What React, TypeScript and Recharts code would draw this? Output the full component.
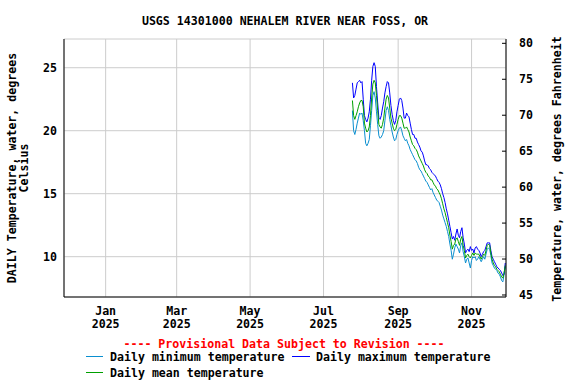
import React from 'react';
import { LineChart, Line, XAxis, YAxis, CartesianGrid } from 'recharts';

// first day with data, 2025-07-25, then one value per day
const firstDate = '2025-07-25';

const maxTemps = [
  23.8, 22.6, 22.8, 23.3, 23.8, 23.9, 24.0, 23.8, 23.9, 22.5,
  21.2, 20.9, 20.7, 21.0, 21.5, 22.5, 24.0, 25.1, 25.4, 25.1,
  23.5, 22.2, 21.0, 20.9, 21.2, 21.8, 22.3, 23.0, 23.5, 23.9,
  23.8, 23.0, 22.0, 21.3, 20.8, 20.5, 20.8, 21.5, 22.0, 22.5,
  22.6, 22.4, 21.8, 21.0, 21.0, 21.4, 21.2, 21.1, 20.6, 20.1,
  19.7, 19.7, 19.4, 19.4, 19.1, 18.9, 18.7, 18.4, 18.3, 18.0,
  17.6, 17.3, 17.3, 17.2, 17.0, 16.9, 16.7, 16.6, 16.5, 16.4,
  16.2, 16.0, 15.9, 15.7, 15.4, 15.0, 14.7, 14.3, 13.8, 13.4,
  12.9, 12.4, 11.9, 11.4, 11.6, 11.3, 11.8, 12.2, 11.7, 11.5,
  12.0, 12.3, 11.5, 11.0, 10.3, 10.5, 10.6, 10.4, 10.8, 10.5,
  10.6, 10.3, 10.7, 10.8, 10.6, 10.5, 10.3, 10.0, 10.2, 10.4,
  10.5, 10.8, 11.1, 11.1, 11.1, 10.5, 10.0, 9.8, 9.6, 9.4,
  9.2, 9.1, 9.0, 8.9, 8.7, 8.5, 8.6, 9.5,
];

const minTemps = [
  21.6, 20.0, 19.7, 20.1, 20.6, 21.0, 21.4, 21.3, 21.4, 20.8,
  20.0, 19.0, 18.8, 19.0, 19.3, 20.4, 21.6, 22.8, 23.1, 22.6,
  21.5, 20.5, 19.6, 19.4, 19.5, 19.7, 20.0, 20.8, 21.6, 21.9,
  21.6, 20.9, 20.4, 19.9, 19.5, 19.2, 19.3, 19.7, 20.0, 20.2,
  20.3, 20.0, 19.6, 19.4, 19.2, 19.3, 19.0, 18.8, 18.5, 18.3,
  18.1, 17.9, 17.7, 17.6, 17.4, 17.1, 16.9, 16.8, 16.6, 16.4,
  16.2, 16.0, 15.9, 15.7, 15.5, 15.3, 15.4, 15.1, 14.9, 14.7,
  14.5, 14.4, 14.3, 14.0, 13.7, 13.3, 13.0, 12.7, 12.4, 12.0,
  11.6, 11.0, 10.5, 9.8, 10.2, 10.7, 11.0, 10.8, 10.6, 10.3,
  10.9, 11.1, 10.4, 10.0, 9.5, 9.8, 9.9, 9.5, 9.1, 9.7,
  10.0, 9.9, 10.0, 9.7, 9.8, 10.0, 9.8, 9.6, 9.8, 10.0,
  9.8, 10.2, 10.6, 10.7, 10.6, 10.1, 9.5, 9.3, 9.1, 9.0,
  8.9, 8.7, 8.6, 8.4, 8.1, 8.0, 8.6, 9.2,
];

const meanTemps = [
  22.4, 21.2, 20.9, 21.2, 21.5, 21.9, 22.2, 22.4, 22.4, 21.9,
  20.6, 20.2, 19.9, 20.0, 20.3, 21.2, 22.6, 23.7, 24.0, 23.8,
  22.8, 21.6, 20.5, 20.3, 20.2, 20.5, 21.0, 21.8, 22.5, 22.8,
  22.6, 21.8, 21.0, 20.6, 20.2, 20.0, 20.1, 20.5, 20.9, 21.2,
  21.2, 21.0, 20.6, 20.2, 20.2, 20.3, 20.1, 19.9, 19.5, 19.2,
  18.9, 18.8, 18.6, 18.5, 18.3, 18.0, 17.8, 17.6, 17.4, 17.2,
  16.9, 16.7, 16.6, 16.4, 16.3, 16.1, 16.1, 15.9, 15.7, 15.6,
  15.4, 15.3, 15.1, 14.9, 14.6, 14.2, 13.8, 13.5, 13.1, 12.7,
  12.3, 11.7, 11.2, 10.6, 10.9, 11.0, 11.4, 11.5, 11.2, 10.9,
  11.4, 11.6, 10.9, 10.5, 9.9, 10.1, 10.2, 10.0, 9.9, 10.1,
  10.3, 10.1, 10.3, 10.2, 10.2, 10.2, 10.0, 9.8, 10.0, 10.2,
  10.1, 10.5, 10.9, 11.0, 10.9, 10.3, 9.8, 9.5, 9.3, 9.2,
  9.0, 8.9, 8.8, 8.6, 8.4, 8.3, 8.7, 9.3,
];

const monthLabels = ['Jan', 'Mar', 'May', 'Jul', 'Sep', 'Nov'];
const monthIndex = [0, 2, 4, 6, 8, 10];
const yearLabel = '2025';
const celsiusTicks = [10, 15, 20, 25];
const fahrenheitTicks = [45, 50, 55, 60, 65, 70, 75, 80];

const DAY = 86400000;
const jan1 = Date.UTC(2025, 0, 1);
const start = Math.round((Date.parse(firstDate) - jan1) / DAY);

const data = maxTemps.map((v, i) => ({
  day: start + i,
  min: minTemps[i],
  max: v,
  mean: meanTemps[i],
}));

const xTicks = monthIndex.map((m) => Math.round((Date.UTC(2025, m, 1) - jan1) / DAY));

const FONT = '"DejaVu Sans Mono", monospace';
const FS = 11.6;
const MIN_C = '#0a8fd0';
const MAX_C = '#0000ff';
const MEAN_C = '#00a000';

function MonthTick(props: any) {
  const { x, y, index } = props;
  return (
    <g>
      <text x={x} y={y + 18} textAnchor="middle" fontFamily={FONT} fontWeight="bold" fontSize={FS} fill="#000">
        {monthLabels[index]}
      </text>
      <text x={x} y={y + 30.5} textAnchor="middle" fontFamily={FONT} fontWeight="bold" fontSize={FS} fill="#000">
        {yearLabel}
      </text>
    </g>
  );
}

function CTick(props: any) {
  const { x, y, payload } = props;
  return (
    <text x={x - 7} y={y + 4} textAnchor="end" fontFamily={FONT} fontWeight="bold" fontSize={FS} fill="#000">
      {payload.value}
    </text>
  );
}

function FTick(props: any) {
  const { x, y, payload } = props;
  return (
    <g>
      <line x1={x - 4} x2={x} y1={y} y2={y} stroke="#000" />
      <text x={x + 13} y={y + 4} textAnchor="start" fontFamily={FONT} fontWeight="bold" fontSize={FS} fill="#000">
        {payload.value}
      </text>
    </g>
  );
}

export default function App() {
  const txt = { fontFamily: FONT, fontWeight: 'bold' as const, fontSize: FS };
  return (
    <div style={{ position: 'absolute', left: 0, top: 0, width: 576, height: 384, background: '#fff' }}>
      <LineChart width={576} height={384} data={data} margin={{ top: 39, right: 0, bottom: 47, left: 0 }}>
        <CartesianGrid stroke="#cccccc" yAxisId="c" />
        <XAxis
          dataKey="day"
          type="number"
          domain={[-34.6, 332.6]}
          ticks={xTicks}
          allowDataOverflow
          height={40}
          tickSize={0}
          tickMargin={0}
          tick={<MonthTick />}
          axisLine={{ stroke: '#000' }}
          tickLine={false}
          interval={0}
        />
        <XAxis
          xAxisId="top"
          orientation="top"
          type="number"
          domain={[-34.6, 332.6]}
          height={0}
          tick={false}
          tickLine={false}
          axisLine={{ stroke: '#000' }}
        />
        <YAxis
          yAxisId="c"
          type="number"
          domain={[6.8, 27.28]}
          ticks={celsiusTicks}
          allowDataOverflow
          width={64}
          tickSize={0}
          tickMargin={0}
          tick={<CTick />}
          tickLine={false}
          axisLine={{ stroke: '#000' }}
          interval={0}
        />
        <YAxis
          yAxisId="f"
          orientation="right"
          type="number"
          domain={[44.72, 80.6]}
          ticks={fahrenheitTicks}
          allowDataOverflow
          width={70}
          tickSize={0}
          tickMargin={0}
          tick={<FTick />}
          tickLine={false}
          axisLine={{ stroke: '#000' }}
          interval={0}
        />
        <Line yAxisId="c" dataKey="min" stroke={MIN_C} strokeWidth={1} dot={false} isAnimationActive={false} />
        <Line yAxisId="c" dataKey="max" stroke={MAX_C} strokeWidth={1} dot={false} isAnimationActive={false} />
        <Line yAxisId="c" dataKey="mean" stroke={MEAN_C} strokeWidth={1} dot={false} isAnimationActive={false} />
      </LineChart>
      <svg width={576} height={384} style={{ position: 'absolute', left: 0, top: 0, pointerEvents: 'none' }}>
        <text x={285} y={24.5} textAnchor="middle" {...txt} fill="#000">
          USGS 14301000 NEHALEM RIVER NEAR FOSS, OR
        </text>
        <g transform="translate(15.5,168) rotate(-90)">
          <text x={0} y={0} textAnchor="middle" {...txt} fill="#000">DAILY Temperature, water, degrees</text>
          <text x={0} y={12} textAnchor="middle" {...txt} fill="#000">Celsius</text>
        </g>
        <g transform="translate(560.5,169) rotate(-90)">
          <text x={0} y={0} textAnchor="middle" {...txt} fill="#000">Temperature, water, degrees Fahrenheit</text>
        </g>
        <text x={284} y={347.5} textAnchor="middle" {...txt} fill="#ff0000">
          ---- Provisional Data Subject to Revision ----
        </text>
        <line x1={86} x2={103} y1={356.5} y2={356.5} stroke={MIN_C} />
        <text x={110} y={361} {...txt} fill="#000">Daily minimum temperature</text>
        <line x1={292} x2={310} y1={356.5} y2={356.5} stroke={MAX_C} />
        <text x={316} y={361} {...txt} fill="#000">Daily maximum temperature</text>
        <line x1={86} x2={103} y1={372.5} y2={372.5} stroke={MEAN_C} />
        <text x={110} y={377} {...txt} fill="#000">Daily mean temperature</text>
      </svg>
    </div>
  );
}
